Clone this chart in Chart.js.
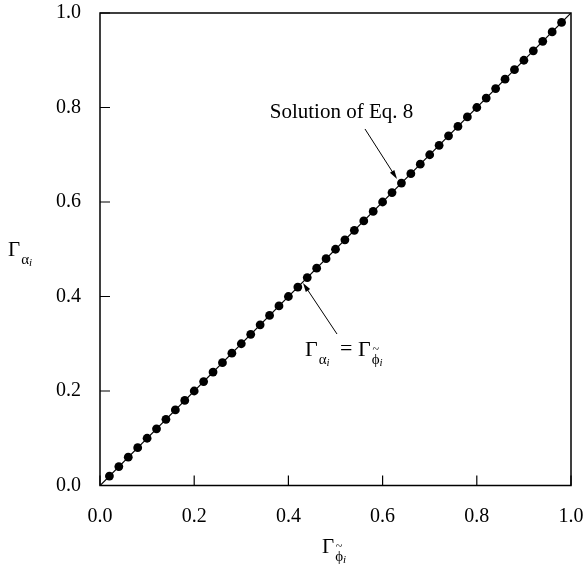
<!DOCTYPE html>
<html>
<head>
<meta charset="utf-8">
<script src="https://cdn.jsdelivr.net/npm/chart.js@4.4.0/dist/chart.umd.min.js"></script>
<style>
  html, body { margin: 0; padding: 0; background: #fff; }
  #wrap { width: 586px; height: 566px; }
</style>
</head>
<body>
<div id="wrap"><canvas id="c" width="586" height="566"></canvas></div>
<script>
// values
const phiValues = [0.02, 0.04, 0.06, 0.08, 0.10, 0.12, 0.14, 0.16, 0.18, 0.20,
                   0.22, 0.24, 0.26, 0.28, 0.30, 0.32, 0.34, 0.36, 0.38, 0.40,
                   0.42, 0.44, 0.46, 0.48, 0.50, 0.52, 0.54, 0.56, 0.58, 0.60,
                   0.62, 0.64, 0.66, 0.68, 0.70, 0.72, 0.74, 0.76, 0.78, 0.80,
                   0.82, 0.84, 0.86, 0.88, 0.90, 0.92, 0.94, 0.96, 0.98];
const alphaValues = [0.02, 0.04, 0.06, 0.08, 0.10, 0.12, 0.14, 0.16, 0.18, 0.20,
                     0.22, 0.24, 0.26, 0.28, 0.30, 0.32, 0.34, 0.36, 0.38, 0.40,
                     0.42, 0.44, 0.46, 0.48, 0.50, 0.52, 0.54, 0.56, 0.58, 0.60,
                     0.62, 0.64, 0.66, 0.68, 0.70, 0.72, 0.74, 0.76, 0.78, 0.80,
                     0.82, 0.84, 0.86, 0.88, 0.90, 0.92, 0.94, 0.96, 0.98];
const equalLineX = [0, 1];
const equalLineY = [0, 1];
const tickValues = [0, 0.2, 0.4, 0.6, 0.8, 1.0];

const SERIF = "'Liberation Serif', 'Times New Roman', serif";

// Γ with a subscript (alpha or phi-tilde) and a small italic i
function drawGamma(ctx, x, base, sub, size) {
    ctx.save();
    ctx.fillStyle = '#000';
    ctx.textBaseline = 'alphabetic';
    ctx.textAlign = 'left';
    ctx.font = size + 'px ' + SERIF;
    ctx.fillText('Γ', x, base);
    let sx = x + ctx.measureText('Γ').width + 1;
    const subSize = Math.round(size * 0.7);
    const subBase = base + Math.round(size * 0.38);
    ctx.font = subSize + 'px ' + SERIF;
    const glyph = sub === 'alpha' ? 'α' : 'ϕ';
    ctx.fillText(glyph, sx, subBase);
    const gw = ctx.measureText(glyph).width;
    if (sub === 'phi') {
        ctx.font = Math.round(subSize * 0.8) + 'px ' + SERIF;
        ctx.textAlign = 'center';
        ctx.fillText('~', sx + gw / 2, subBase - subSize * 0.72);
        ctx.textAlign = 'left';
    }
    ctx.font = 'italic ' + Math.round(size * 0.5) + 'px ' + SERIF;
    ctx.fillText('i', sx + gw, subBase + 2);
    ctx.restore();
}

function drawArrow(ctx, x1, y1, x2, y2) {
    const ang = Math.atan2(y2 - y1, x2 - x1);
    const len = 9, half = 2.6;
    ctx.save();
    ctx.strokeStyle = '#000';
    ctx.fillStyle = '#000';
    ctx.lineWidth = 1;
    ctx.beginPath();
    ctx.moveTo(x1, y1);
    ctx.lineTo(x2 - Math.cos(ang) * len * 0.8, y2 - Math.sin(ang) * len * 0.8);
    ctx.stroke();
    ctx.beginPath();
    ctx.moveTo(x2, y2);
    ctx.lineTo(x2 - Math.cos(ang) * len - Math.sin(ang) * half, y2 - Math.sin(ang) * len + Math.cos(ang) * half);
    ctx.lineTo(x2 - Math.cos(ang) * len + Math.sin(ang) * half, y2 - Math.sin(ang) * len - Math.cos(ang) * half);
    ctx.closePath();
    ctx.fill();
    ctx.restore();
}

const framePlugin = {
    id: 'frame',
    afterDatasetsDraw(chart) {
        const ctx = chart.ctx;
        const a = chart.chartArea;
        const xs = chart.scales.x, ys = chart.scales.y;

        ctx.save();
        ctx.strokeStyle = '#000';
        ctx.lineWidth = 1.5;
        ctx.strokeRect(a.left, a.top, a.right - a.left, a.bottom - a.top);

        // inward ticks on the bottom and left axes only
        ctx.lineWidth = 1.2;
        ctx.beginPath();
        tickValues.forEach(v => {
            const px = xs.getPixelForValue(v);
            ctx.moveTo(px, a.bottom);
            ctx.lineTo(px, a.bottom - 10);
            const py = ys.getPixelForValue(v);
            ctx.moveTo(a.left, py);
            ctx.lineTo(a.left + 10, py);
        });
        ctx.stroke();
        ctx.restore();

        // annotations
        const P = (x, y) => [xs.getPixelForValue(x), ys.getPixelForValue(y)];
        ctx.save();
        ctx.fillStyle = '#000';
        ctx.font = '21px ' + SERIF;
        ctx.textAlign = 'center';
        ctx.textBaseline = 'alphabetic';
        const t1 = P(0.5127, 0.778);
        ctx.fillText('Solution of Eq. 8', t1[0], t1[1]);
        ctx.restore();

        let s = P(0.5626, 0.7545), e = P(0.6306, 0.6487);
        drawArrow(ctx, s[0], s[1], e[0], e[1]);
        s = P(0.5032, 0.3206); e = P(0.4310, 0.4286);
        drawArrow(ctx, s[0], s[1], e[0], e[1]);

        const t2 = P(0.4352, 0.2741);
        drawGamma(ctx, t2[0], t2[1], 'alpha', 22);
        ctx.save();
        ctx.font = '22px ' + SERIF;
        ctx.fillStyle = '#000';
        ctx.fillText('=', t2[0] + 35, t2[1] - 1);
        ctx.restore();
        drawGamma(ctx, t2[0] + 53, t2[1], 'phi', 22);

        // axis titles
        drawGamma(ctx, 8, 256, 'alpha', 21);
        drawGamma(ctx, 322, 553, 'phi', 21);
    }
};

Chart.defaults.font.family = SERIF;
Chart.defaults.font.size = 20;
Chart.defaults.color = '#000';

const noOverflow = s => {
    s.paddingLeft = 0; s.paddingRight = 0; s.paddingTop = 0; s.paddingBottom = 0;
};

new Chart(document.getElementById('c'), {
    type: 'scatter',
    data: {
        datasets: [
            {
                type: 'line',
                data: equalLineX.map((x, i) => ({ x: x, y: equalLineY[i] })),
                borderColor: '#000',
                borderWidth: 1.2,
                pointRadius: 0,
                fill: false,
                order: 2
            },
            {
                data: phiValues.map((x, i) => ({ x: x, y: alphaValues[i] })),
                backgroundColor: '#000',
                borderColor: '#000',
                pointRadius: 4.4,
                borderWidth: 0,
                order: 1
            }
        ]
    },
    plugins: [framePlugin],
    options: {
        responsive: false,
        animation: false,
        events: [],
        layout: { padding: { top: 13, right: 15, left: 0, bottom: 0 } },
        plugins: { legend: { display: false }, tooltip: { enabled: false } },
        scales: {
            x: {
                type: 'linear', min: 0, max: 1,
                grid: { display: false, drawTicks: false },
                border: { display: false },
                afterBuildTicks: s => { s.ticks = tickValues.map(v => ({ value: v })); },
                afterFit: s => { s.height = 80.5; noOverflow(s); },
                ticks: { padding: 19, callback: v => v.toFixed(1), maxRotation: 0 }
            },
            y: {
                type: 'linear', min: 0, max: 1,
                grid: { display: false, drawTicks: false },
                border: { display: false },
                afterBuildTicks: s => { s.ticks = tickValues.map(v => ({ value: v })); },
                afterFit: s => { s.width = 100; noOverflow(s); },
                ticks: { padding: 19, callback: v => v.toFixed(1) }
            }
        }
    }
});
</script>
</body>
</html>
